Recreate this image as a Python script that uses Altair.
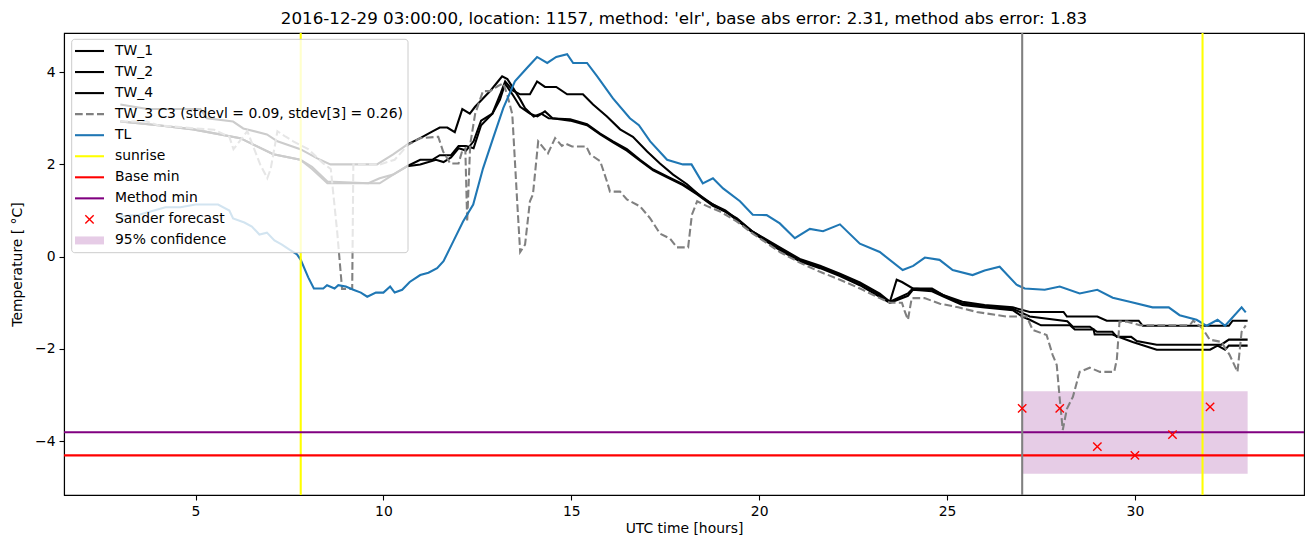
import altair as alt
import pandas as pd

# ---------------- data ----------------
tw1_h = [3.0, 3.72, 5.13, 5.3, 6.0, 6.27, 6.9, 7.18, 7.79, 8.24, 8.59, 9.83, 10.26, 10.63, 10.98, 11.32, 11.5, 11.7, 11.9,
         12.1, 12.3, 12.44, 12.65, 12.84, 13.0, 13.16, 13.3, 13.45, 13.64, 13.77, 14.0, 14.2, 14.4, 14.97, 15.42, 15.77,
         16.11, 16.48, 16.83, 17.18, 17.55, 17.97, 18.35, 18.77, 19.1, 19.49, 19.83, 20.55, 21.08, 21.62, 22.15, 22.68,
         23.21, 23.48, 23.96, 24.09, 24.6, 24.89, 25.41, 26.0, 26.75, 27.2, 28.2, 28.35, 28.8, 28.99, 29.4, 29.52, 29.9,
         30.05, 30.58, 32.3, 32.5, 33.0]
tw1_t = [3.3, 3.2, 3.2, 3.0, 2.93, 2.78, 2.65, 2.5, 2.33, 2.13, 2.0, 2.0, 2.22, 2.43, 2.57, 2.72, 2.8, 2.8, 2.7,
         3.2, 3.1, 3.25, 3.43, 3.59, 3.75, 3.91, 3.85, 3.66, 3.41, 3.22, 3.04, 3.1, 3.0, 2.98, 2.87, 2.67,
         2.5, 2.33, 2.1, 1.89, 1.74, 1.57, 1.37, 1.13, 1.0, 0.76, 0.54, 0.17, -0.07, -0.22, -0.39, -0.58,
         -0.83, -0.98, -0.8, -0.69, -0.69, -0.83, -1.02, -1.07, -1.13, -1.3, -1.4, -1.52, -1.52, -1.63, -1.63, -1.74, -1.74,
         -1.83, -1.91, -1.91, -1.8, -1.8]

tw2_h = [3.0, 4.0, 4.94, 6.19, 7.07, 7.79, 8.1, 8.51, 9.6, 9.9, 10.26, 10.63, 10.98, 11.3, 11.5, 11.8, 12.0, 12.2, 12.4,
         12.6, 12.9, 13.1, 13.24, 13.45, 13.64, 13.9, 14.09, 14.3, 14.6, 14.89, 15.31, 15.58, 15.95, 16.3, 16.64, 17.02,
         17.36, 17.71, 18.08, 18.51, 18.96, 19.41, 19.83, 20.55, 21.08, 21.62, 22.15, 22.68, 23.21, 23.48, 23.66, 23.8,
         24.09, 24.6, 24.89, 25.41, 26.0, 26.75, 27.2, 28.1, 28.19, 29.0, 29.25, 30.1, 30.21, 32.5, 32.6, 33.0]
tw2_t = [2.93, 2.85, 2.76, 2.57, 2.22, 2.1, 1.95, 1.63, 1.59, 1.7, 1.78, 1.96, 2.1, 2.1, 2.2, 2.2, 2.4, 2.4, 2.35,
         2.85, 3.1, 3.5, 3.8, 3.6, 3.52, 3.52, 3.8, 3.68, 3.68, 3.52, 3.52, 3.3, 3.04, 2.76, 2.6, 2.28,
         2.02, 1.78, 1.57, 1.26, 1.04, 0.83, 0.54, 0.2, -0.05, -0.2, -0.37, -0.56, -0.8, -0.98, -0.5, -0.55,
         -0.69, -0.72, -0.83, -0.98, -1.05, -1.1, -1.2, -1.2, -1.3, -1.3, -1.39, -1.39, -1.5, -1.5, -1.39, -1.39]

tw4_h = [3.0, 4.0, 4.94, 6.19, 7.07, 7.79, 8.1, 8.51, 9.9, 10.26, 10.63, 10.98, 11.2, 11.4, 11.6, 11.8, 12.0, 12.2, 12.4,
         12.6, 12.9, 13.1, 13.24, 13.45, 13.64, 13.9, 14.1, 14.3, 14.5, 14.97, 15.42, 15.77, 16.11, 16.48, 16.83, 17.18,
         17.55, 17.97, 18.35, 18.77, 19.1, 19.49, 19.83, 20.55, 21.08, 21.62, 22.15, 22.68, 23.21, 23.48, 23.96, 24.09,
         24.6, 24.89, 25.41, 26.0, 26.75, 27.0, 27.2, 27.5, 28.27, 28.4, 28.9, 28.93, 29.4, 29.94, 30.58, 32.0, 32.2,
         32.4, 32.5, 33.0]
tw4_t = [2.93, 2.85, 2.76, 2.57, 2.22, 2.1, 1.9, 1.59, 1.59, 1.78, 1.96, 2.0, 2.05, 2.1, 2.05, 2.15, 2.35, 2.3, 2.5,
         2.95, 3.1, 3.4, 3.75, 3.5, 3.25, 3.1, 3.04, 3.15, 3.0, 2.95, 2.85, 2.65, 2.48, 2.3, 2.08, 1.87,
         1.72, 1.55, 1.35, 1.1, 0.98, 0.74, 0.52, 0.14, -0.1, -0.25, -0.42, -0.62, -0.87, -1.0, -0.85, -0.72,
         -0.75, -0.86, -1.05, -1.1, -1.16, -1.3, -1.37, -1.49, -1.49, -1.58, -1.58, -1.69, -1.69, -1.85, -2.02, -2.02, -1.93,
         -2.02, -1.93, -1.93]

tw3_h = [3.0, 3.7, 4.0, 5.0, 5.5, 5.9, 6.01, 6.38, 6.72, 6.91, 7.0, 7.18, 7.4, 7.6, 8.0, 8.4, 8.6, 8.77, 8.9, 9.17, 9.2,
         9.91, 10.3, 10.66, 10.98, 11.46, 11.59, 11.78, 12.0, 12.1, 12.18, 12.23, 12.31, 12.44, 12.65, 12.84, 13.05,
         13.19, 13.3, 13.43, 13.56, 13.64, 13.77, 13.9, 13.98, 14.12, 14.38, 14.57, 14.75, 14.85, 15.02, 15.4, 15.5,
         15.77, 15.95, 16.03, 16.3, 16.48, 16.83, 17.1, 17.36, 17.63, 17.81, 18.11, 18.21, 18.35, 18.6, 18.96, 19.41,
         19.83, 20.55, 21.08, 21.62, 22.15, 22.68, 23.21, 23.48, 23.8, 23.88, 23.96, 24.06, 24.4, 24.81, 25.3, 25.79,
         26.59, 27.12, 27.28, 27.65, 27.81, 27.92, 28.0, 28.08, 28.19, 28.35, 28.53, 28.8, 29.07, 29.45, 29.52, 29.59,
         29.8, 30.13, 31.46, 31.55, 31.7, 31.8, 31.99, 32.3, 32.52, 32.73, 32.84, 32.95]
tw3_t = [2.93, 2.93, 2.85, 2.78, 2.75, 2.6, 2.33, 2.72, 2.0, 1.7, 1.9, 2.72, 2.6, 2.5, 2.33, 2.02, 1.9, 0.54, -0.7, -0.7, 2.0,
         2.0, 2.1, 2.43, 2.57, 2.6, 2.28, 2.02, 2.02, 2.3, 2.35, 0.76, 2.43, 3.09, 3.59, 3.59, 3.7,
         3.76, 3.5, 3.09, 1.2, 0.1, 0.26, 1.2, 1.35, 2.5, 2.24, 2.57, 2.4, 2.45, 2.39, 2.39, 2.22,
         2.07, 1.63, 1.41, 1.41, 1.24, 1.09, 0.83, 0.5, 0.39, 0.2, 0.2, 0.91, 1.2, 1.1, 0.98, 0.76,
         0.5, 0.1, -0.13, -0.33, -0.5, -0.69, -0.9, -1.0, -1.0, -1.2, -1.37, -0.9, -0.9, -1.02, -1.1, -1.2,
         -1.3, -1.3, -1.59, -1.7, -2.13, -2.35, -3.09, -3.76, -3.3, -3.04, -2.5, -2.41, -2.5, -2.5, -2.22, -1.41,
         -1.41, -1.49, -1.49, -1.39, -1.49, -1.56, -1.8, -1.85, -2.13, -2.5, -1.63, -1.49]

tl_h = [3.0, 3.5, 3.8, 4.2, 4.6, 5.0, 5.6, 5.9, 6.0, 6.3, 6.5, 6.7, 6.9, 7.1, 7.3, 7.5, 7.7, 7.8, 8.0, 8.15, 8.4, 8.5,
        8.7, 8.8, 9.0, 9.2, 9.4, 9.57, 9.8, 10.0, 10.18, 10.3, 10.5, 10.7, 10.98, 11.2, 11.43, 11.6, 11.86, 12.12,
        12.39, 12.65, 12.92, 13.19, 13.5, 13.82, 14.09, 14.36, 14.6, 14.89, 15.05, 15.42, 15.69, 16.11, 16.56, 16.8,
        17.1, 17.55, 17.97, 18.2, 18.5, 18.77, 19.04, 19.49, 19.83, 20.2, 20.55, 20.95, 21.35, 21.7, 22.15, 22.68,
        23.21, 23.82, 24.1, 24.41, 24.8, 25.15, 25.68, 26.0, 26.4, 26.85, 27.07, 27.6, 28.0, 28.53, 29.0, 29.41,
        29.86, 30.47, 30.9, 31.19, 31.64, 31.91, 32.2, 32.4, 32.84, 32.95]
tl_t = [0.87, 0.91, 0.98, 1.07, 1.07, 1.13, 1.13, 1.0, 0.83, 0.74, 0.65, 0.48, 0.52, 0.35, 0.26, 0.15, 0.05, -0.07, -0.45,
        -0.69, -0.69, -0.62, -0.69, -0.62, -0.65, -0.72, -0.78, -0.87, -0.78, -0.78, -0.65, -0.78, -0.72, -0.55, -0.4,
        -0.35, -0.25, -0.1, 0.33, 0.76, 1.13, 1.91, 2.57, 3.22, 3.8, 4.09, 4.33, 4.2, 4.33, 4.39, 4.2, 4.2, 3.91, 3.43,
        3.0, 2.85, 2.5, 2.1, 2.0, 2.0, 1.59, 1.7, 1.48, 1.2, 0.91, 0.9, 0.72, 0.4, 0.6, 0.55, 0.7, 0.28, 0.1, -0.29,
        -0.2, -0.02, -0.07, -0.29, -0.4, -0.3, -0.22, -0.61, -0.69, -0.72, -0.65, -0.8, -0.72, -0.89, -0.98, -1.1,
        -1.1, -1.27, -1.37, -1.5, -1.37, -1.5, -1.1, -1.21]

sander_h = [27, 28, 29, 30, 31, 32]
sander_t = [-3.29, -3.29, -4.12, -4.31, -3.86, -3.26]
sunrise_h = [7.8, 31.8]
forecast_h = [27.0]
base_min = [-4.31]
method_min = [-3.81]
conf_h = [27.0]
conf_h2 = [33.0]
conf_lo = [-4.71]
conf_hi = [-2.92]

title = ("2016-12-29 03:00:00, location: 1157, method: 'elr', "
         "base abs error: 2.31, method abs error: 1.83")
legend_labels = ["TW_1", "TW_2", "TW_4", "TW_3 C3 (stdevl = 0.09, stdev[3] = 0.26)", "TL",
                 "sunrise", "Base min", "Method min", "Sander forecast", "95% confidence"]

# ---------------- chart ----------------
FONT = "DejaVu Sans"
W, H = 1240, 462
xs = alt.Scale(domain=[1.5, 34.5], nice=False, zero=False)
ys = alt.Scale(domain=[-5.17, 4.85], nice=False, zero=False)
minus = "replace(datum.label, '-', '\u2212')"
x_enc = alt.X("h:Q", scale=xs, axis=alt.Axis(title="UTC time [hours]", values=[5, 10, 15, 20, 25, 30],
                                            labelExpr=minus))
y_enc = alt.Y("t:Q", scale=ys, axis=alt.Axis(title="Temperature [ \u00b0C]", values=[-4, -2, 0, 2, 4],
                                            labelExpr=minus))


def series(h, t):
    return pd.DataFrame({"h": h, "t": t})


layers = []
conf_df = pd.DataFrame({"h": conf_h, "h2": conf_h2, "t": conf_lo, "t2": conf_hi})
layers.append(alt.Chart(conf_df).mark_rect(color="purple", opacity=0.2).encode(
    x=x_enc, x2="h2:Q", y=y_enc, y2="t2:Q"))

for h, t in [(tw1_h, tw1_t), (tw2_h, tw2_t), (tw4_h, tw4_t)]:
    layers.append(alt.Chart(series(h, t)).mark_line(color="black", strokeWidth=2.08).encode(x=x_enc, y=y_enc))
layers.append(alt.Chart(series(tw3_h, tw3_t)).mark_line(color="gray", strokeWidth=2.08, strokeDash=[7.7, 3.3])
              .encode(x=x_enc, y=y_enc))
layers.append(alt.Chart(series(tl_h, tl_t)).mark_line(color="#1f77b4", strokeWidth=2.08).encode(x=x_enc, y=y_enc))

layers.append(alt.Chart(pd.DataFrame({"h": sunrise_h})).mark_rule(color="yellow", strokeWidth=2.08)
              .encode(x=x_enc))
layers.append(alt.Chart(pd.DataFrame({"t": base_min})).mark_rule(color="red", strokeWidth=2.08).encode(y=y_enc))
layers.append(alt.Chart(pd.DataFrame({"t": method_min})).mark_rule(color="purple", strokeWidth=2.08).encode(y=y_enc))
layers.append(alt.Chart(pd.DataFrame({"h": forecast_h})).mark_rule(color="gray", strokeWidth=2.08).encode(x=x_enc))

XSHAPE = "M-1,-1L1,1M-1,1L1,-1"
layers.append(alt.Chart(series(sander_h, sander_t)).mark_point(
    shape=XSHAPE, filled=False, color="red", size=70, strokeWidth=1.4, opacity=1).encode(x=x_enc, y=y_enc))

# ---------------- legend (drawn in pixel space) ----------------
dummy = pd.DataFrame({"a": [0]})
layers.append(alt.Chart(dummy).mark_rect(fill="white", fillOpacity=0.8, stroke="#cccccc", strokeWidth=1,
                                         cornerRadius=3).encode(
    x=alt.value(7.7), x2=alt.value(344), y=alt.value(6.3), y2=alt.value(219.7)))

styles = [("line", "black", None), ("line", "black", None), ("line", "black", None), ("line", "gray", [7.7, 3.3]),
          ("line", "#1f77b4", None), ("line", "yellow", None), ("line", "red", None), ("line", "purple", None),
          ("marker", "red", None), ("patch", "purple", None)]
y0, dy = 18.0, 21.05
for i, (lab, (kind, col, dash)) in enumerate(zip(legend_labels, styles)):
    yy = y0 + i * dy
    if kind == "line":
        kw = dict(color=col, strokeWidth=2.08)
        if dash:
            kw["strokeDash"] = dash
        layers.append(alt.Chart(dummy).mark_rule(**kw).encode(
            x=alt.value(11), x2=alt.value(40), y=alt.value(yy)))
    elif kind == "marker":
        layers.append(alt.Chart(dummy).mark_point(shape=XSHAPE, filled=False, color=col, size=70,
                                                  strokeWidth=1.4, opacity=1).encode(
            x=alt.value(25.5), y=alt.value(yy)))
    else:
        layers.append(alt.Chart(dummy).mark_rect(color=col, opacity=0.2).encode(
            x=alt.value(11), x2=alt.value(40), y=alt.value(yy - 4), y2=alt.value(yy + 4)))
    layers.append(alt.Chart(dummy).mark_text(text=lab, align="left", baseline="middle", font=FONT,
                                             fontSize=13.9, color="black").encode(
        x=alt.value(51), y=alt.value(yy)))

chart = alt.layer(*layers).properties(
    width=W, height=H,
    title=alt.TitleParams(title, font=FONT, fontSize=16.7, fontWeight="normal", color="black",
                          anchor="middle", offset=4),
    autosize=alt.AutoSizeParams(type="none"),
    padding={"left": 56, "top": 25, "right": 1, "bottom": 48},
).configure_view(stroke="black", strokeWidth=1.1).configure_axis(
    labelFont=FONT, titleFont=FONT, labelFontSize=13.9, titleFontSize=13.9, labelColor="black",
    titleColor="black", titleFontWeight="normal", tickColor="black", domainColor="black",
    tickSize=5, tickWidth=1.1, domainWidth=1.1, labelPadding=4, grid=False
).configure_axisX(titlePadding=4).configure_axisY(titlePadding=10)

chart.save("out.html", embed_options={"renderer": "svg", "actions": False})
